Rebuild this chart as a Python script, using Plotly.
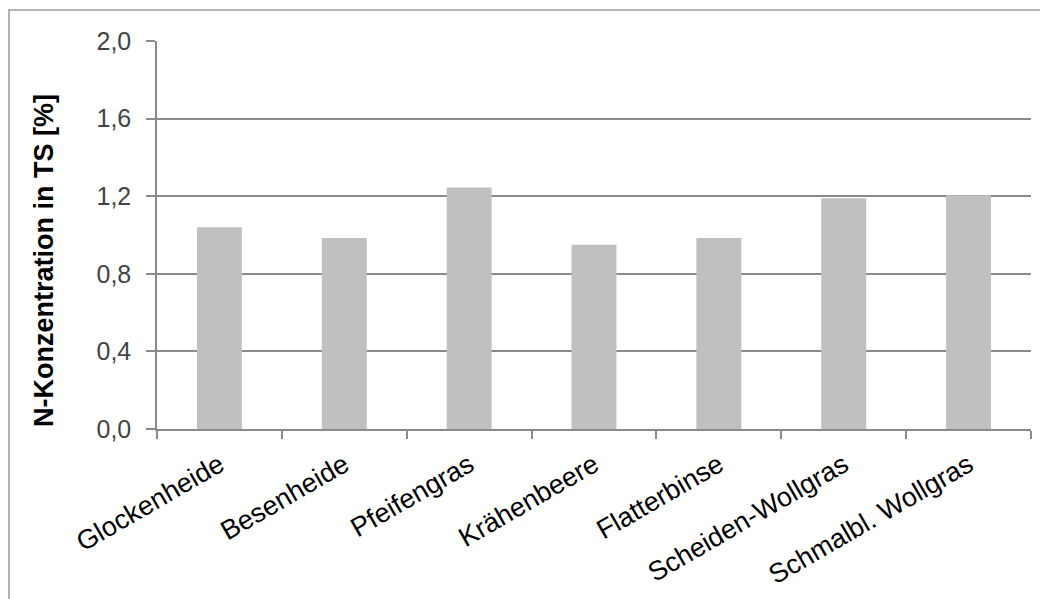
import plotly.graph_objects as go

# Stickstoffkonzentration in der Trockensubstanz je Pflanzenart
arten = ["Glockenheide", "Besenheide", "Pfeifengras", "Krähenbeere",
         "Flatterbinse", "Scheiden-Wollgras", "Schmalbl. Wollgras"]
n_konzentration = [1.04, 0.985, 1.245, 0.95, 0.985, 1.19, 1.205]
y_ticks = [0.0, 0.4, 0.8, 1.2, 1.6, 2.0]
y_titel = "N-Konzentration in TS [%]"

W, H = 1040, 599
L, R, T, B = 157, 9, 41, 170
pw, ph = W - L - R, H - T - B

fig = go.Figure(go.Bar(
    x=arten, y=n_konzentration,
    marker=dict(color="#c0c0c0", line=dict(width=0)),
))

grid = "#8a8a8a"
fig.update_layout(
    width=W, height=H,
    margin=dict(l=L, r=R, t=T, b=B, pad=0),
    paper_bgcolor="white", plot_bgcolor="white",
    separators=",.",
    bargap=0.64,
    showlegend=False,
    font=dict(family="Liberation Sans, Arial, sans-serif", color="black"),
    xaxis=dict(
        type="category", tickson="boundaries",
        ticks="outside", ticklen=8, tickcolor=grid, tickwidth=1.5,
        showline=True, linecolor=grid, linewidth=1.5,
        showgrid=False, tickangle=-30, ticklabelstandoff=8,
        tickfont=dict(size=27, color="black"),
    ),
    yaxis=dict(
        range=[0, 2.0], tickvals=y_ticks, tickformat=".1f",
        ticks="outside", ticklen=9, tickcolor=grid, tickwidth=1.5,
        showline=True, linecolor=grid, linewidth=1.5,
        showgrid=True, gridcolor=grid, gridwidth=1.5,
        zeroline=False, ticklabelstandoff=10,
        tickfont=dict(size=25, color="#444444"),
    ),
    # Achsentitel als gedrehte Beschriftung links neben der Achse
    annotations=[dict(
        text="<b>" + y_titel + "</b>", textangle=-90,
        xref="paper", yref="paper",
        x=(44 - L) / pw, y=(H - B - 261) / ph,
        xanchor="center", yanchor="middle", showarrow=False,
        font=dict(size=27, color="black"),
    )],
    shapes=[dict(
        type="rect", xref="paper", yref="paper",
        x0=(9 - L) / pw, x1=1.2, y0=-0.6, y1=(H - B - 10) / ph,
        line=dict(color="#999999", width=1.5), fillcolor="rgba(0,0,0,0)",
        layer="below",
    )],
)

fig.write_html("out.html")
